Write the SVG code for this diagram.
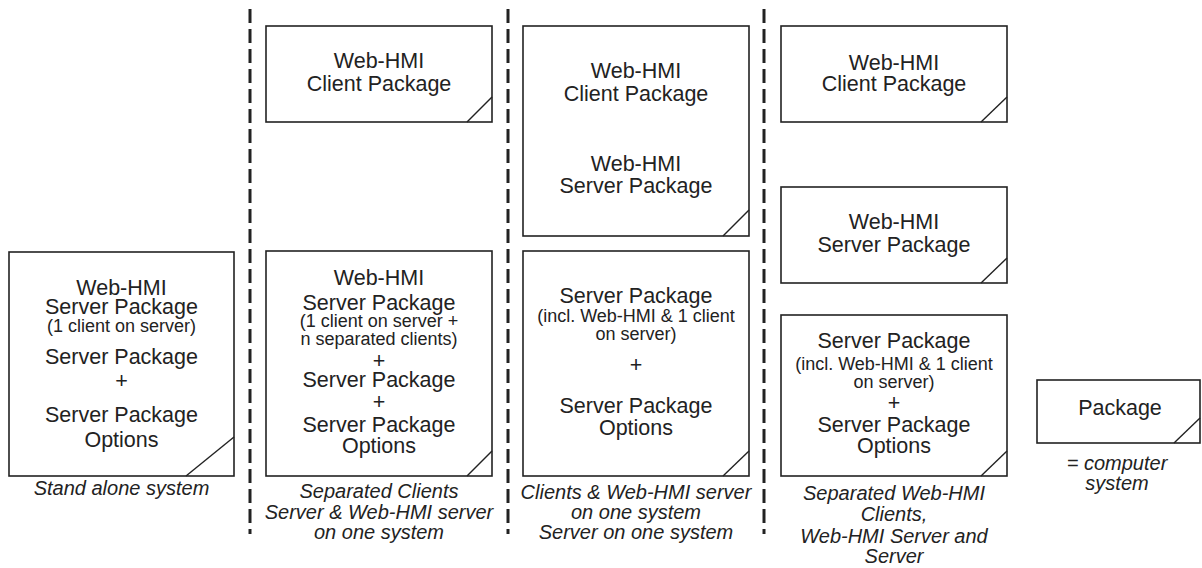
<svg xmlns="http://www.w3.org/2000/svg" width="1202" height="568" viewBox="0 0 1202 568">
<style>
.box{fill:#fff;stroke:#222;stroke-width:1.6}
.cut{fill:none;stroke:#222;stroke-width:1.4}
.sep{stroke:#222;stroke-width:3;stroke-dasharray:14 6;fill:none}
text{font-family:"Liberation Sans",Arial,Helvetica,sans-serif;fill:#222;text-anchor:middle}
.t{font-size:21.5px}
.s{font-size:18px}
.c{font-size:20px;font-style:italic}
</style>
<rect width="1202" height="568" fill="#fff"/>
<g id="connectors">
<line class="sep" x1="250" y1="9" x2="250" y2="534"/>
<line class="sep" x1="508" y1="9" x2="508" y2="534"/>
<line class="sep" x1="764" y1="9" x2="764" y2="534"/>
</g>
<g id="n1">
<rect class="box" x="9" y="252" width="225" height="224"/>
<line class="cut" x1="186" y1="476" x2="234" y2="437"/>
<text class="t" x="121.5" y="295">Web-HMI</text>
<text class="t" x="121.5" y="314">Server Package</text>
<text class="s" x="121.5" y="332">(1 client on server)</text>
<text class="t" x="121.5" y="364">Server Package</text>
<text class="t" x="121.5" y="388">+</text>
<text class="t" x="121.5" y="422">Server Package</text>
<text class="t" x="121.5" y="447">Options</text>
<text class="c" x="121.5" y="495">Stand alone system</text>
</g>
<g id="n2a">
<rect class="box" x="266" y="26" width="226" height="96"/>
<line class="cut" x1="467" y1="122" x2="492" y2="97"/>
<text class="t" x="379" y="68">Web-HMI</text>
<text class="t" x="379" y="91">Client Package</text>
</g>
<g id="n2b">
<rect class="box" x="266" y="251" width="226" height="225"/>
<line class="cut" x1="467" y1="476" x2="492" y2="451"/>
<text class="t" x="379" y="285">Web-HMI</text>
<text class="t" x="379" y="310">Server Package</text>
<text class="s" x="379" y="327">(1 client on server +</text>
<text class="s" x="379" y="345">n separated clients)</text>
<text class="t" x="379" y="368">+</text>
<text class="t" x="379" y="387">Server Package</text>
<text class="t" x="379" y="409">+</text>
<text class="t" x="379" y="432">Server Package</text>
<text class="t" x="379" y="453">Options</text>
<text class="c" x="379" y="498">Separated Clients</text>
<text class="c" x="379" y="519">Server &amp; Web-HMI server</text>
<text class="c" x="379" y="539">on one system</text>
</g>
<g id="n3a">
<rect class="box" x="523" y="26" width="226" height="210"/>
<line class="cut" x1="723" y1="236" x2="749" y2="210"/>
<text class="t" x="636" y="78">Web-HMI</text>
<text class="t" x="636" y="101">Client Package</text>
<text class="t" x="636" y="171">Web-HMI</text>
<text class="t" x="636" y="193">Server Package</text>
</g>
<g id="n3b">
<rect class="box" x="523" y="251" width="226" height="225"/>
<line class="cut" x1="723" y1="476" x2="749" y2="451"/>
<text class="t" x="636" y="303">Server Package</text>
<text class="s" x="636" y="322">(incl. Web-HMI &amp; 1 client</text>
<text class="s" x="636" y="340">on server)</text>
<text class="t" x="636" y="372">+</text>
<text class="t" x="636" y="413">Server Package</text>
<text class="t" x="636" y="435">Options</text>
<text class="c" x="636" y="499">Clients &amp; Web-HMI server</text>
<text class="c" x="636" y="519">on one system</text>
<text class="c" x="636" y="539">Server on one system</text>
</g>
<g id="n4a">
<rect class="box" x="781" y="26" width="226" height="96"/>
<line class="cut" x1="981" y1="122" x2="1007" y2="97"/>
<text class="t" x="894" y="70">Web-HMI</text>
<text class="t" x="894" y="91">Client Package</text>
</g>
<g id="n4b">
<rect class="box" x="781" y="187" width="226" height="96"/>
<line class="cut" x1="981" y1="283" x2="1007" y2="258"/>
<text class="t" x="894" y="229">Web-HMI</text>
<text class="t" x="894" y="252">Server Package</text>
</g>
<g id="n4c">
<rect class="box" x="781" y="315" width="226" height="161"/>
<line class="cut" x1="981" y1="476" x2="1007" y2="451"/>
<text class="t" x="894" y="348">Server Package</text>
<text class="s" x="894" y="370">(incl. Web-HMI &amp; 1 client</text>
<text class="s" x="894" y="388">on server)</text>
<text class="t" x="894" y="410">+</text>
<text class="t" x="894" y="432">Server Package</text>
<text class="t" x="894" y="453">Options</text>
<text class="c" x="894" y="500">Separated Web-HMI</text>
<text class="c" x="894" y="521">Clients,</text>
<text class="c" x="894" y="543">Web-HMI Server and</text>
<text class="c" x="894" y="563">Server</text>
</g>
<g id="legend">
<rect class="box" x="1037" y="380" width="163" height="63"/>
<line class="cut" x1="1174" y1="443" x2="1200" y2="418"/>
<text class="t" x="1120" y="415">Package</text>
<text class="c" x="1117" y="470">= computer</text>
<text class="c" x="1117" y="490">system</text>
</g>
</svg>
